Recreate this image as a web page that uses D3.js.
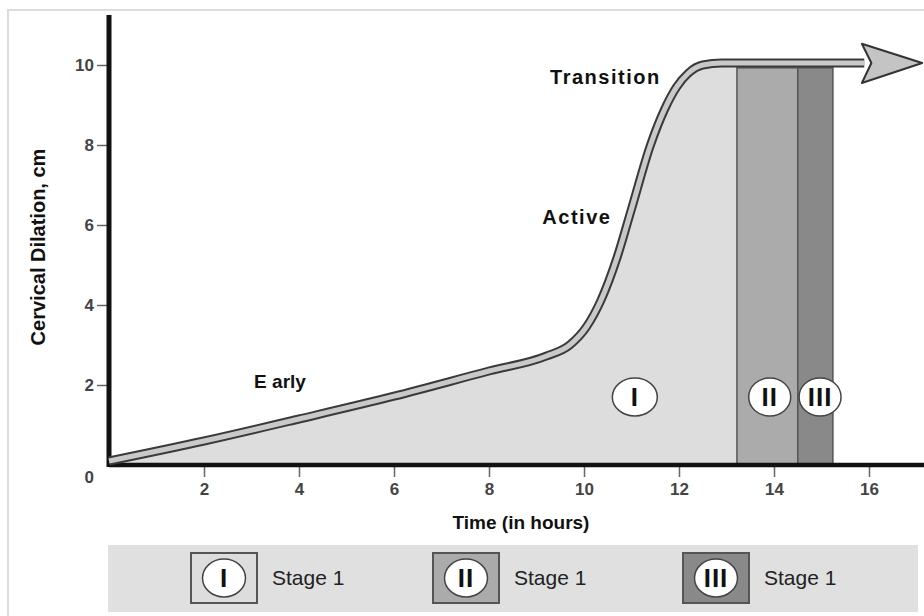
<!DOCTYPE html>
<html>
<head>
<meta charset="utf-8">
<script src="https://cdn.jsdelivr.net/npm/d3@7/dist/d3.min.js"></script>
<style>
  html, body { margin: 0; padding: 0; background: #fff; }
  svg { display: block; font-family: "Liberation Sans", Arial, sans-serif; }
</style>
</head>
<body>
<svg id="chart" width="924" height="616"></svg>
<script>
// ---- data ----
const curveHours    = [0, 2, 4, 6, 8, 9.2, 9.7, 10.05, 10.35, 10.7, 11.0, 11.4, 11.7, 11.95, 12.2, 12.5, 12.9, 13.5, 15.9];
const curveDilation = [0.1, 0.6, 1.15, 1.72, 2.35, 2.72, 3.0, 3.45, 4.1, 5.2, 6.4, 8.0, 8.9, 9.45, 9.8, 10.0, 10.05, 10.05, 10.05];
const stageNames    = ["I", "II", "III"];
const stageStart    = [0, 13.22, 14.5];
const stageEnd      = [13.22, 14.5, 15.24];
const stageTop      = 9.93;
const stageLabelX   = [11.07, 13.91, 14.97];
const stageLabelY   = [1.7, 1.7, 1.7];
const phaseLabels   = ["E arly", "Active", "Transition"];
const phaseX        = [3.6, 9.85, 10.45];
const phaseY        = [2.1, 6.2, 9.7];
const xTicks        = [2, 4, 6, 8, 10, 12, 14, 16];
const yTicks        = [0, 2, 4, 6, 8, 10];
const legendLabels  = ["Stage 1", "Stage 1", "Stage 1"];
const stageColors   = ["#dddddd", "#ababab", "#898989"];

const svg = d3.select("#chart");
const x = d3.scaleLinear().domain([0, 17]).range([109, 916.5]);
const y = d3.scaleLinear().domain([0, 10]).range([465, 65]);

// outer frame
svg.append("rect").attr("x", 8).attr("y", 10).attr("width", 940).attr("height", 640)
  .attr("fill", "none").attr("stroke", "#dcdcdc").attr("stroke-width", 2);

const pts = curveHours.map((h, i) => [h, curveDilation[i]]);

// Stage I area
const areaPts = pts.filter(p => p[0] <= stageEnd[0]).concat([[stageEnd[0], 10.05]]);
svg.append("path")
  .datum(areaPts)
  .attr("fill", stageColors[0])
  .attr("d", d3.area().x(d => x(d[0])).y0(y(0)).y1(d => y(d[1])).curve(d3.curveMonotoneX));

// Stage II, III bars
svg.selectAll("rect.stage").data([1, 2]).enter().append("rect")
  .attr("class", "stage")
  .attr("x", i => x(stageStart[i]))
  .attr("width", i => x(stageEnd[i]) - x(stageStart[i]))
  .attr("y", y(stageTop))
  .attr("height", y(0) - y(stageTop))
  .attr("fill", i => stageColors[i])
  .attr("stroke", "#555").attr("stroke-width", 1.5);

// X axis
const xAxis = d3.axisBottom(x).tickValues(xTicks).tickSize(12).tickPadding(6);
const gx = svg.append("g").attr("transform", `translate(0,${y(0)})`).call(xAxis);
gx.select(".domain").remove();
gx.selectAll(".tick line").attr("stroke", "#666").attr("stroke-width", 1.5);
gx.selectAll(".tick text").attr("fill", "#444").attr("font-size", 17).attr("font-weight", "bold");
svg.append("line").attr("x1", x(0)).attr("x2", 924).attr("y1", y(0)).attr("y2", y(0))
  .attr("stroke", "#111").attr("stroke-width", 4.5);

// Y axis
const yAxis = d3.axisLeft(y).tickValues(yTicks).tickSize(12).tickPadding(3);
const gy = svg.append("g").attr("transform", `translate(${x(0)},0)`).call(yAxis);
gy.select(".domain").remove();
gy.selectAll(".tick line").attr("stroke", "#666").attr("stroke-width", 1.5)
  .attr("display", d => d === 0 ? "none" : null);
gy.selectAll(".tick text").attr("fill", "#444").attr("font-size", 17).attr("font-weight", "bold")
  .attr("dy", d => d === 0 ? "1.05em" : "0.32em");
svg.append("line").attr("x1", x(0)).attr("x2", x(0)).attr("y1", 15).attr("y2", y(0) + 2)
  .attr("stroke", "#111").attr("stroke-width", 5);

// Curve
const line = d3.line().x(d => x(d[0])).y(d => y(d[1])).curve(d3.curveMonotoneX);
svg.append("path").datum(pts).attr("d", line)
  .attr("fill", "none").attr("stroke", "#3a3a3a").attr("stroke-width", 9).attr("stroke-linecap", "butt");
svg.append("path").datum(pts).attr("d", line)
  .attr("fill", "none").attr("stroke", "#c9c9c9").attr("stroke-width", 5);

// arrow head
const ah = [[15.85, 10.53], [17.12, 10.05], [15.85, 9.55], [16.05, 10.05]];
svg.append("path")
  .attr("d", "M" + ah.map(p => [x(p[0]), y(p[1])].join(",")).join("L") + "Z")
  .attr("fill", "#c4c4c4").attr("stroke", "#333").attr("stroke-width", 2).attr("stroke-linejoin", "round");

// stage markers
const mk = svg.selectAll("g.mk").data(stageNames).enter().append("g")
  .attr("transform", (d, i) => `translate(${x(stageLabelX[i])},${y(stageLabelY[i])})`);
mk.append("ellipse").attr("rx", (d, i) => i === 0 ? 22.5 : 21).attr("ry", 19)
  .attr("fill", "#fff").attr("stroke", "#444").attr("stroke-width", 1.5);
mk.append("text").text(d => d).attr("text-anchor", "middle").attr("dy", "0.36em")
  .attr("font-size", 26).attr("font-weight", "bold").attr("letter-spacing", 1).attr("fill", "#111");

// phase labels
svg.selectAll("text.phase").data(phaseLabels).enter().append("text")
  .attr("class", "phase")
  .attr("x", (d, i) => x(phaseX[i])).attr("y", (d, i) => y(phaseY[i]))
  .attr("text-anchor", "middle").attr("dy", "0.35em")
  .attr("font-size", (d, i) => i === 0 ? 19 : 20).attr("font-weight", "bold")
  .attr("letter-spacing", (d, i) => i === 0 ? 0 : 1.5).attr("fill", "#111")
  .text(d => d);

// axis titles
svg.append("text").attr("transform", "translate(45,247) rotate(-90)")
  .attr("text-anchor", "middle").attr("font-size", 20).attr("font-weight", "bold").attr("fill", "#111")
  .text("Cervical Dilation, cm");
svg.append("text").attr("x", 521).attr("y", 522).attr("dy", "0.35em")
  .attr("text-anchor", "middle").attr("font-size", 19).attr("font-weight", "bold").attr("fill", "#111")
  .text("Time (in hours)");

// legend
svg.append("rect").attr("x", 108).attr("y", 545).attr("width", 810).attr("height", 67).attr("fill", "#e0e0e0");
const legX = [191, 433, 683];
const lg = svg.selectAll("g.leg").data(stageNames).enter().append("g")
  .attr("transform", (d, i) => `translate(${legX[i]},553)`);
lg.append("rect").attr("width", 66).attr("height", 50)
  .attr("fill", (d, i) => stageColors[i]).attr("stroke", "#555").attr("stroke-width", 2);
lg.append("ellipse").attr("cx", 33).attr("cy", 25).attr("rx", 21.5).attr("ry", 19)
  .attr("fill", "#fff").attr("stroke", "#444").attr("stroke-width", 1.5);
lg.append("text").attr("x", 33).attr("y", 25).attr("dy", "0.36em").attr("text-anchor", "middle")
  .attr("font-size", 26).attr("font-weight", "bold").attr("letter-spacing", 1).attr("fill", "#111")
  .text(d => d);
lg.append("text").attr("x", 81).attr("y", 25).attr("dy", "0.35em")
  .attr("font-size", 21).attr("fill", "#222")
  .text((d, i) => legendLabels[i]);
</script>
</body>
</html>
